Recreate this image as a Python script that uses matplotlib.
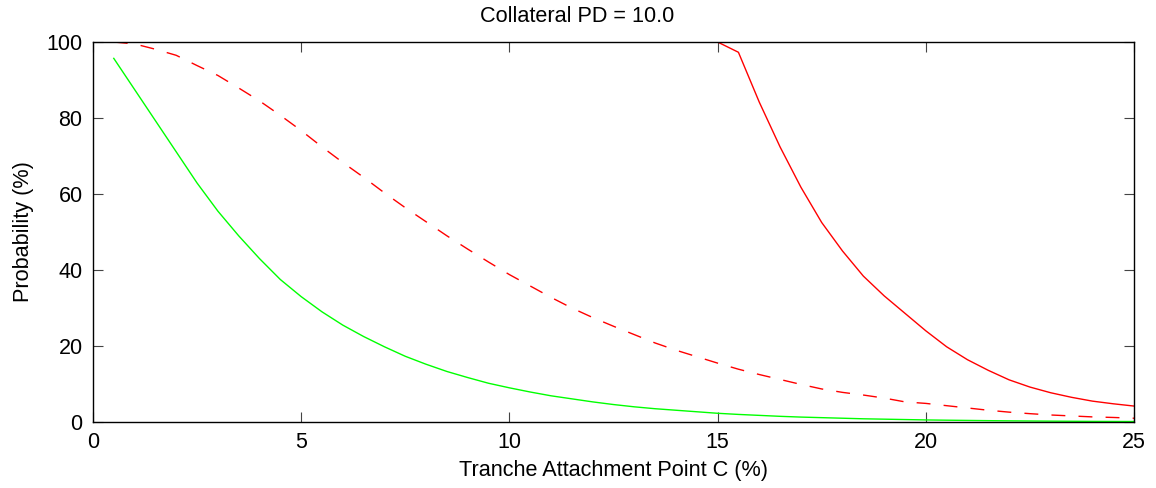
import numpy as np
import matplotlib
matplotlib.use('Agg')
import matplotlib.pyplot as plt

plt.rcParams['font.family'] = ['Liberation Sans', 'DejaVu Sans']

# tranche attachment point C (%)
c_green = np.arange(0.5, 25.01, 0.5)
p_green = [95.7, 87.5, 79.3, 71.1, 62.9, 55.5, 49.0, 43.0, 37.5, 33.0,
           29.0, 25.5, 22.5, 19.8, 17.3, 15.2, 13.3, 11.7, 10.2, 9.0,
           7.9, 6.9, 6.1, 5.3, 4.6, 4.0, 3.5, 3.1, 2.7, 2.3,
           2.0, 1.75, 1.5, 1.3, 1.15, 1.0, 0.85, 0.75, 0.65, 0.55,
           0.48, 0.42, 0.36, 0.31, 0.27, 0.23, 0.2, 0.17, 0.15, 0.13]

c_dash = np.arange(0.5, 25.01, 0.5)
p_dash = [100.0, 99.5, 98.1, 96.5, 93.8, 91.2, 87.9, 84.5, 80.7, 76.7,
          72.4, 68.3, 64.4, 60.3, 56.4, 52.7, 49.0, 45.5, 42.1, 38.8,
          35.8, 32.8, 30.0, 27.5, 25.2, 23.0, 20.8, 18.9, 17.2, 15.5,
          13.9, 12.5, 11.2, 9.9, 8.7, 7.8, 7.1, 6.3, 5.3, 4.9,
          4.3, 3.7, 3.1, 2.6, 2.2, 1.85, 1.6, 1.35, 1.2, 1.0]

c_red = np.arange(15.0, 25.01, 0.5)
p_red = [100.0, 97.3, 84.2, 72.4, 61.8, 52.5, 45.0, 38.4, 33.2, 28.6,
         24.0, 19.8, 16.4, 13.6, 11.1, 9.2, 7.7, 6.5, 5.5, 4.8, 4.2]

fig = plt.figure(figsize=(11.56, 4.88), dpi=100)
ax = fig.add_axes([0.0804, 0.1352, 0.9006, 0.7787])

ax.plot(c_green, p_green, '-', color=(0, 1, 0), lw=1.0)
ax.plot(c_dash, p_dash, color=(1, 0, 0), lw=1.0, linestyle=(0, (10, 9.5)))
ax.plot(c_red, p_red, '-', color=(1, 0, 0), lw=1.0)

ax.set_xlim(0, 25)
ax.set_ylim(0, 100)
ax.set_xticks([0, 5, 10, 15, 20, 25])
ax.set_yticks([0, 20, 40, 60, 80, 100])
ax.tick_params(direction='in', length=7, width=0.8, color='#444444',
               top=True, right=True, labelsize=15.5, pad=7.5)
for s in ax.spines.values():
    s.set_linewidth(1.0)
    s.set_color('black')

ax.set_title('Collateral PD = 10.0', fontsize=15.6, pad=14.5, x=0.4655)
ax.set_xlabel('Tranche Attachment Point C (%)', fontsize=15.6, labelpad=5)
ax.set_ylabel('Probability (%)', fontsize=15.6, labelpad=9)

plt.savefig('out.png', dpi=100)
